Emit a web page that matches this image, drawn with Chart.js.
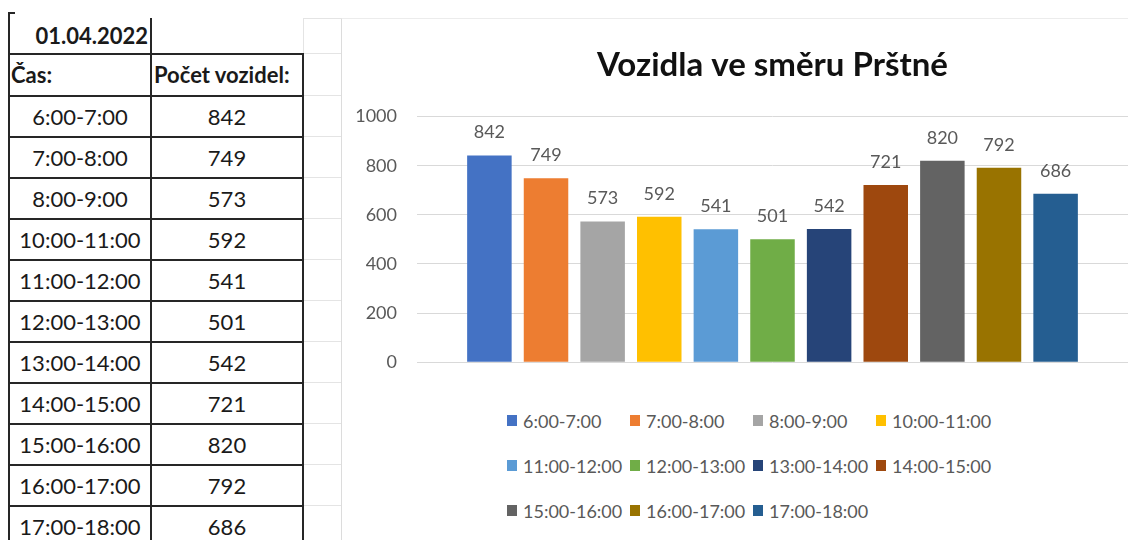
<!DOCTYPE html>
<html>
<head>
<meta charset="utf-8">
<script src="https://cdn.jsdelivr.net/npm/chart.js@4"></script>
<style>
  body { margin: 0; width: 1128px; height: 540px; overflow: hidden; background: #fff; position: relative; font-family: Lato, sans-serif; }
  .ln { position: absolute; background: #262626; }
  .fl { position: absolute; background: #e4e4e4; }
  .cell { position: absolute; font-size: 22px; color: #1a1a1a; line-height: 41px; white-space: nowrap; }
  .b { font-weight: bold; }
  #chartBox { position: absolute; left: 341px; top: 18px; width: 787px; height: 522px; border-left: 1px solid #dcdcdc; border-top: 1px solid #ececec; box-sizing: border-box; }
  #wrap { position: absolute; left: 342px; top: 19px; width: 786px; height: 374px; }
  #legend { position: absolute; left: 507px; top: 398px; display: grid; grid-template-columns: repeat(4, 123px); grid-auto-rows: 45px; }
  .li { display: flex; align-items: center; font-size: 18px; color: #595959; white-space: nowrap; }
  .sw { width: 10px; height: 11px; margin-right: 6px; }
</style>
</head>
<body>
<div id="sheet"></div>
<div id="chartBox"></div>
<div id="wrap"><canvas id="c"></canvas></div>
<div id="legend"></div>
<script>
var date = '01.04.2022'
var headers = ['Čas:', 'Počet vozidel:']
var times = ['6:00-7:00', '7:00-8:00', '8:00-9:00', '10:00-11:00', '11:00-12:00', '12:00-13:00',
             '13:00-14:00', '14:00-15:00', '15:00-16:00', '16:00-17:00', '17:00-18:00']
var counts = [842, 749, 573, 592, 541, 501, 542, 721, 820, 792, 686]
var colors = ['#4472C4', '#ED7D31', '#A5A5A5', '#FFC000', '#5B9BD5', '#70AD47',
              '#264478', '#9E480E', '#636363', '#997300', '#255E91']
var yTicks = [0, 200, 400, 600, 800, 1000]

// spreadsheet part on the left
var sheet = document.getElementById('sheet')
function add(cls, css, text) {
    var d = document.createElement('div')
    d.className = cls
    d.style.cssText = css
    if (text) d.textContent = text
    sheet.appendChild(d)
}
var rowTop = 95, rowH = 41
add('ln', 'left:8px;top:12px;width:7px;height:2px')
add('ln', 'left:8px;top:12px;width:2px;height:528px')
add('ln', 'left:150px;top:18px;width:2px;height:522px')
add('ln', 'left:302px;top:53px;width:2px;height:487px')
add('fl', 'left:303px;top:18px;width:1px;height:35px')
add('fl', 'left:304px;top:18px;width:37px;height:1px')
add('ln', 'left:8px;top:53px;width:296px;height:2px')
add('fl', 'left:304px;top:53px;width:37px;height:1px')
for (var i = 0; i <= times.length; i++) {
    var y = rowTop + i * rowH
    add('ln', 'left:8px;top:' + y + 'px;width:296px;height:2px')
    add('fl', 'left:304px;top:' + y + 'px;width:37px;height:1px')
}
add('cell b', 'left:10px;width:138px;text-align:right;top:15px', date)
add('cell b', 'left:11px;top:54px', headers[0])
add('cell b', 'left:154px;top:54px', headers[1])
times.forEach(function (t, i) {
    var y = rowTop + i * rowH + 1
    add('cell', 'left:10px;width:140px;text-align:center;top:' + y + 'px', t)
    add('cell', 'left:152px;width:150px;text-align:center;top:' + y + 'px', String(counts[i]))
})

// value labels above the bars
var valueLabels = {
    id: 'valueLabels',
    afterDatasetsDraw(chart) {
        var ctx = chart.ctx
        ctx.save()
        ctx.font = '18px Lato'
        ctx.fillStyle = '#595959'
        ctx.textAlign = 'center'
        ctx.textBaseline = 'alphabetic'
        chart.data.datasets.forEach(function (ds, i) {
            var bar = chart.getDatasetMeta(i).data[0]
            ctx.fillText(ds.data[0], bar.x, bar.y - 17)
        })
        ctx.restore()
    }
}

var datasets = times.map(function (t, i) {
    return {
        label: t,
        data: [counts[i]],
        backgroundColor: colors[i],
        categoryPercentage: 0.876,
        barPercentage: 0.786
    }
})

var chart = new Chart(document.getElementById('c'), {
    type: 'bar',
    data: { labels: ['Vozidla'], datasets: datasets },
    plugins: [valueLabels],
    options: {
        responsive: true,
        maintainAspectRatio: false,
        animation: false,
        layout: { padding: 0 },
        plugins: {
            legend: { display: false },
            tooltip: { enabled: false },
            title: {
                display: true,
                fullSize: false,
                text: 'Vozidla ve směru Prštné',
                color: '#111',
                font: { family: 'Lato', size: 33, weight: 'bold', lineHeight: 1.2 },
                padding: { top: 27, bottom: 31 }
            }
        },
        scales: {
            x: { display: false },
            y: {
                min: 0,
                max: 1000,
                afterBuildTicks: function (s) { s.ticks = yTicks.map(function (v) { return { value: v } }) },
                afterFit: function (s) { s.width = 75 },
                border: { display: false },
                grid: { color: '#d9d9d9', lineWidth: 1, drawTicks: false },
                ticks: {
                    color: '#595959',
                    padding: 20,
                    font: { family: 'Lato', size: 18 },
                    callback: function (v) { return String(v) }
                }
            }
        }
    }
})

// legend in Excel style columns
var legend = document.getElementById('legend')
chart.data.datasets.forEach(function (ds) {
    var item = document.createElement('div')
    item.className = 'li'
    var sw = document.createElement('span')
    sw.className = 'sw'
    sw.style.background = ds.backgroundColor
    item.appendChild(sw)
    item.appendChild(document.createTextNode(ds.label))
    legend.appendChild(item)
})
</script>
</body>
</html>
